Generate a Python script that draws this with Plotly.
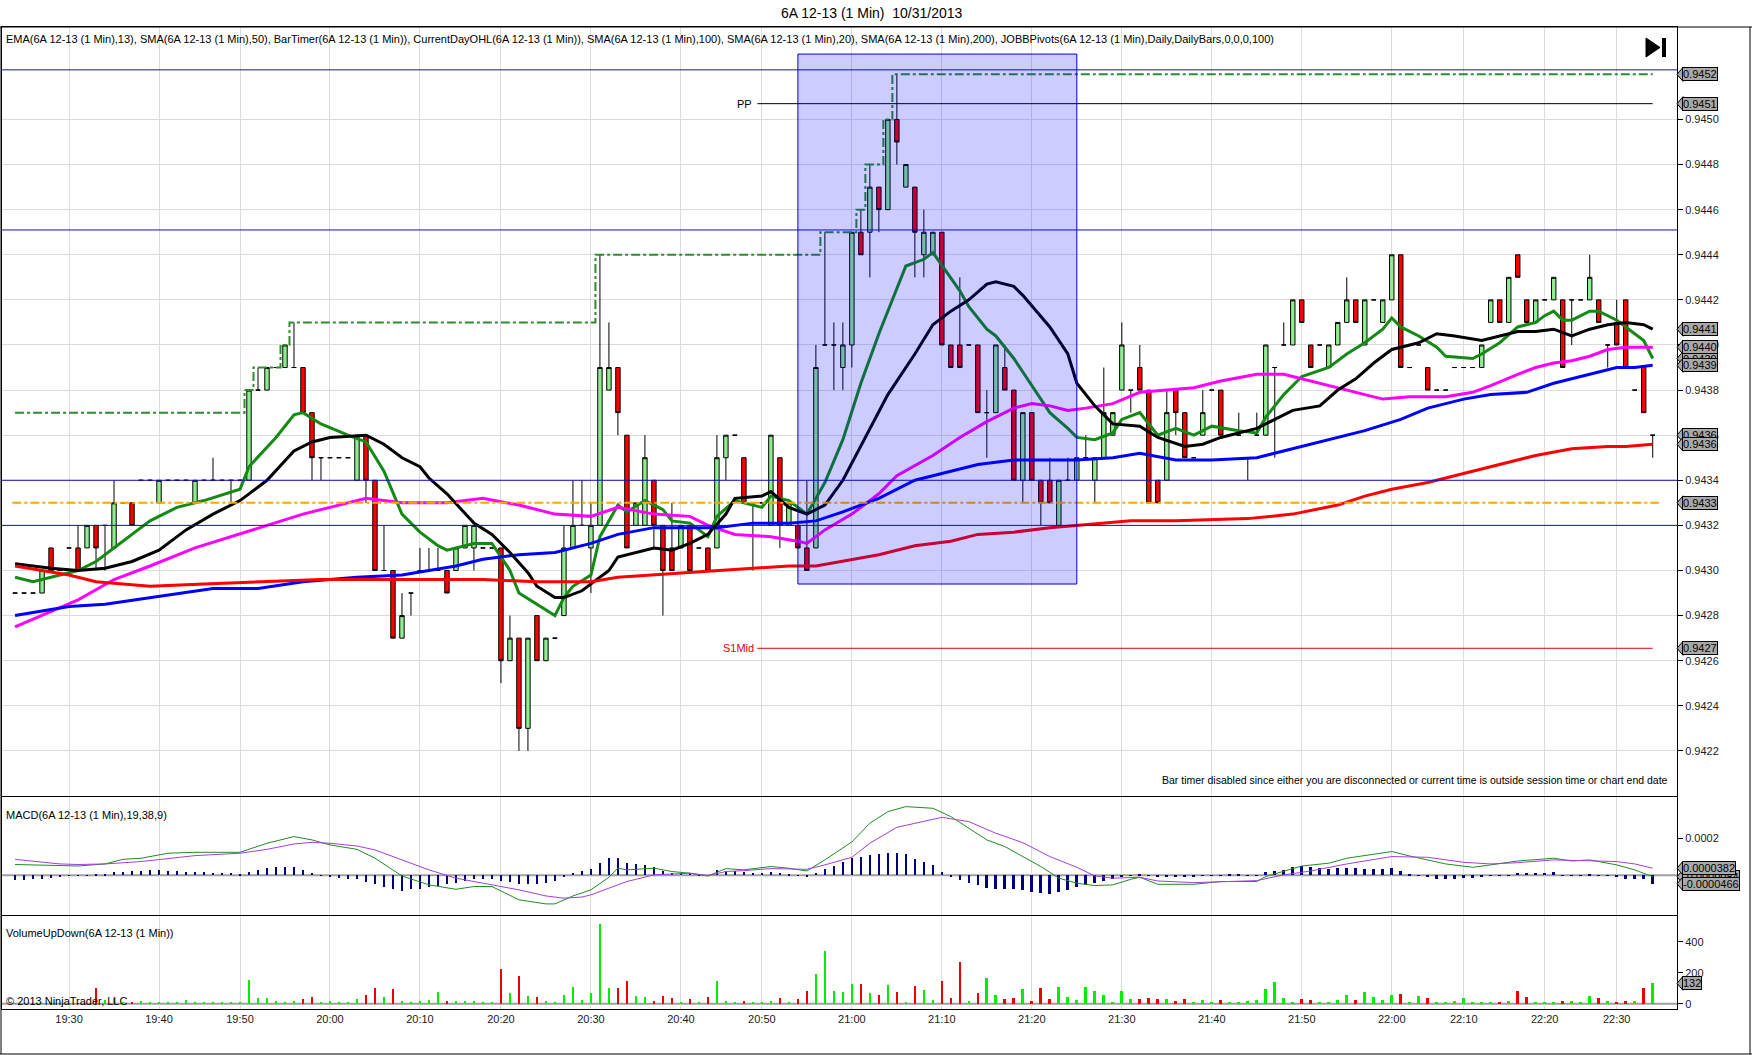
import plotly.graph_objects as go
import pandas as pd

# ------------------------------------------------------------------ DATA
TITLE = "6A 12-13 (1 Min)  10/31/2013"
INDICATORS = ("EMA(6A 12-13 (1 Min),13), SMA(6A 12-13 (1 Min),50), BarTimer(6A 12-13 (1 Min)), "
              "CurrentDayOHL(6A 12-13 (1 Min)), SMA(6A 12-13 (1 Min),100), SMA(6A 12-13 (1 Min),20), "
              "SMA(6A 12-13 (1 Min),200), JOBBPivots(6A 12-13 (1 Min),Daily,DailyBars,0,0,0,100)")
MACD_LABEL = "MACD(6A 12-13 (1 Min),19,38,9)"
VOL_LABEL = "VolumeUpDown(6A 12-13 (1 Min))"
BAR_TIMER_MSG = "Bar timer disabled since either you are disconnected or current time is outside session time or chart end date"
COPYRIGHT = "© 2013 NinjaTrader, LLC"

first_bar = "19:24"
last_bar = "22:34"
missing_minutes = ["19:44", "20:18", "20:46", "22:06", "22:08", "22:13", "22:22", "22:27"]
time_ticks = ["19:30", "19:40", "19:50", "20:00", "20:10", "20:20", "20:30", "20:40", "20:50", "21:00",
              "21:10", "21:20", "21:30", "21:40", "21:50", "22:00", "22:10", "22:20", "22:30"]

open_px = [
    .9429, .9429, .9429, .9429, .9431, .9430, .9431, .9431, .9431, .9432,
    .9432, .9431, .9433, .9433, .9434, .9434, .9433, .9434, .9434, .9434,
    .9433, .9434, .9434, .9434, .9434, .9434, .9434, .9438, .9438, .9439,
    .9439, .9439, .9439, .9437, .9435, .9435, .9435, .9435, .9434, .9436,
    .9434, .9430, .9430, .9427, .9429, .9430, .9430, .9430, .9430, .9430,
    .9431, .9431, .9431, .9431, .9431, .9426, .9427, .9423, .9428, .9426,
    .9427, .9428, .9431, .9432, .9431, .9432, .9438, .9439, .9436, .9432,
    .9432, .9434, .9432, .9431, .9431, .9432, .9431, .9431, .9431, .9435,
    .9436, .9435, .9433, .9433, .9432, .9435, .9432, .9432, .9431, .9431,
    .9440, .9440, .9439, .9440, .9445, .9445, .9447, .9446, .9450, .9447,
    .9447, .9444, .9444, .9445, .9440, .9440, .9440, .9440, .9437, .9437,
    .9439, .9438, .9434, .9437, .9434, .9434, .9432, .9434, .9434, .9435,
    .9434, .9435, .9436, .9438, .9438, .9439, .9438, .9434, .9434, .9438,
    .9437, .9435, .9436, .9438, .9438, .9436, .9436, .9435, .9436, .9436,
    .9439, .9440, .9440, .9442, .9440, .9440, .9439, .9440, .9441, .9442,
    .9440, .9442, .9441, .9442, .9444, .9439, .9440, .9439, .9438, .9438,
    .9439, .9439, .9439, .9439, .9441, .9442, .9441, .9444, .9442, .9441,
    .9442, .9442, .9442, .9442, .9442, .9442, .9442, .9440, .9441, .9442,
    .9438, .9439, .9436]
high_px = [
    .9429, .9429, .9429, .9430, .9431, .9430, .9431, .9432, .9432, .9432,
    .9432, .9434, .9433, .9433, .9434, .9434, .9434, .9434, .9434, .9434,
    .9434, .9434, .9435, .9434, .9434, .9434, .9438, .9439, .9439, .9439,
    .9440, .9441, .9439, .9437, .9435, .9435, .9435, .9435, .9436, .9436,
    .9434, .9432, .9430, .9429, .9429, .9431, .9431, .9431, .9430, .9431,
    .9432, .9432, .9431, .9431, .9431, .9428, .9427, .9427, .9428, .9427,
    .9427, .9432, .9434, .9434, .9433, .9444, .9441, .9439, .9436, .9433,
    .9436, .9434, .9432, .9433, .9432, .9432, .9431, .9431, .9436, .9436,
    .9436, .9435, .9433, .9433, .9436, .9435, .9433, .9432, .9434, .9440,
    .9445, .9441, .9441, .9445, .9446, .9448, .9447, .9450, .9452, .9448,
    .9447, .9446, .9445, .9445, .9440, .9443, .9440, .9440, .9438, .9440,
    .9440, .9438, .9437, .9437, .9434, .9435, .9434, .9435, .9435, .9436,
    .9435, .9439, .9437, .9441, .9438, .9440, .9438, .9434, .9438, .9438,
    .9437, .9435, .9438, .9438, .9438, .9436, .9437, .9435, .9437, .9440,
    .9439, .9441, .9442, .9442, .9440, .9440, .9440, .9441, .9443, .9442,
    .9442, .9442, .9442, .9444, .9444, .9439, .9440, .9439, .9438, .9438,
    .9439, .9439, .9439, .9440, .9442, .9442, .9443, .9444, .9442, .9442,
    .9442, .9443, .9442, .9442, .9442, .9444, .9442, .9440, .9442, .9442,
    .9438, .9439, .9436]
low_px = [
    .9429, .9429, .9429, .9429, .9430, .9430, .9431, .9430, .9431, .9430,
    .9430, .9431, .9433, .9432, .9434, .9434, .9433, .9434, .9434, .9434,
    .9433, .9434, .9434, .9434, .9433, .9434, .9434, .9438, .9438, .9439,
    .9439, .9439, .9437, .9434, .9434, .9435, .9435, .9435, .9434, .9433,
    .9430, .9430, .9427, .9427, .9428, .9430, .9430, .9430, .9429, .9430,
    .9431, .9430, .9431, .9431, .9425, .9426, .9422, .9422, .9426, .9426,
    .9427, .9428, .9431, .9432, .9429, .9432, .9438, .9436, .9431, .9432,
    .9432, .9431, .9428, .9430, .9431, .9430, .9431, .9430, .9431, .9434,
    .9436, .9433, .9430, .9433, .9432, .9431, .9432, .9431, .9430, .9431,
    .9440, .9438, .9438, .9439, .9444, .9443, .9445, .9446, .9448, .9447,
    .9443, .9443, .9444, .9440, .9439, .9439, .9440, .9437, .9435, .9437,
    .9438, .9434, .9433, .9434, .9432, .9433, .9432, .9434, .9434, .9435,
    .9433, .9435, .9436, .9438, .9437, .9438, .9433, .9433, .9434, .9436,
    .9435, .9435, .9436, .9438, .9436, .9436, .9436, .9434, .9436, .9436,
    .9435, .9440, .9440, .9441, .9439, .9440, .9439, .9440, .9441, .9441,
    .9440, .9442, .9441, .9442, .9439, .9439, .9440, .9438, .9438, .9438,
    .9439, .9439, .9439, .9439, .9441, .9441, .9441, .9443, .9441, .9441,
    .9442, .9442, .9439, .9440, .9442, .9442, .9441, .9439, .9440, .9439,
    .9438, .9437, .9435]
close_px = [
    .9429, .9429, .9429, .9430, .9430, .9430, .9431, .9430, .9432, .9431,
    .9432, .9433, .9433, .9432, .9434, .9434, .9434, .9434, .9434, .9434,
    .9434, .9434, .9434, .9434, .9434, .9434, .9438, .9438, .9439, .9439,
    .9440, .9439, .9437, .9435, .9435, .9435, .9435, .9435, .9436, .9434,
    .9430, .9430, .9427, .9428, .9429, .9430, .9430, .9430, .9429, .9431,
    .9432, .9432, .9431, .9431, .9426, .9427, .9423, .9427, .9426, .9427,
    .9427, .9431, .9432, .9432, .9432, .9439, .9439, .9437, .9431, .9433,
    .9435, .9432, .9430, .9430, .9432, .9430, .9431, .9430, .9435, .9436,
    .9436, .9433, .9433, .9433, .9436, .9432, .9433, .9431, .9430, .9439,
    .9440, .9440, .9440, .9445, .9444, .9447, .9446, .9450, .9449, .9448,
    .9445, .9445, .9445, .9440, .9439, .9439, .9440, .9437, .9437, .9440,
    .9438, .9434, .9437, .9434, .9433, .9433, .9434, .9434, .9435, .9435,
    .9435, .9437, .9437, .9440, .9438, .9438, .9433, .9433, .9437, .9437,
    .9435, .9435, .9437, .9438, .9436, .9436, .9436, .9435, .9436, .9440,
    .9439, .9440, .9442, .9441, .9439, .9440, .9440, .9441, .9442, .9441,
    .9442, .9442, .9442, .9444, .9439, .9439, .9440, .9438, .9438, .9438,
    .9439, .9439, .9439, .9440, .9442, .9441, .9443, .9443, .9441, .9442,
    .9442, .9443, .9439, .9442, .9442, .9443, .9441, .9440, .9440, .9439,
    .9438, .9437, .9436]

volume = [
    3, 3, 4, 3, 4, 3, 4, 3, 4, 103,
    23, 39, 5, 5, 17, 11, 5, 5, 5, 24,
    11, 5, 11, 11, 11, 5, 155, 34, 37, 17,
    11, 17, 32, 45, 13, 17, 5, 11, 30, 56,
    103, 45, 97, 17, 13, 17, 24, 75, 17, 17,
    17, 17, 5, 11, 224, 69, 178, 50, 43, 17,
    11, 56, 108, 24, 69, 512, 103, 103, 148, 50,
    45, 17, 50, 37, 11, 30, 5, 43, 148, 17,
    11, 17, 11, 11, 17, 37, 5, 30, 82, 194,
    342, 82, 75, 127, 127, 69, 56, 120, 75, 11,
    114, 88, 24, 146, 37, 269, 17, 69, 166, 56,
    30, 37, 95, 17, 101, 30, 108, 43, 24, 108,
    82, 56, 11, 82, 30, 30, 37, 30, 30, 17,
    30, 5, 24, 5, 24, 11, 11, 17, 24, 95,
    140, 37, 11, 30, 24, 11, 11, 24, 56, 24,
    75, 43, 24, 56, 62, 5, 50, 37, 11, 11,
    17, 37, 11, 11, 5, 11, 17, 82, 43, 11,
    11, 5, 17, 17, 11, 50, 37, 17, 11, 17,
    17, 101, 132]

macd_diff = [
    -25e-6, -25e-6, -22e-6, -18e-6, -14e-6, -11e-6, -4e-6, -2e-6, -1e-6, 2e-6,
    7e-6, 16e-6, 18e-6, 22e-6, 25e-6, 27e-6, 29e-6, 25e-6, 23e-6, 20e-6,
    18e-6, 18e-6, 14e-6, 14e-6, 11e-6, 9e-6, 18e-6, 29e-6, 38e-6, 43e-6,
    45e-6, 43e-6, 29e-6, 11e-6, 1e-6, -11e-6, -16e-6, -20e-6, -23e-6, -34e-6,
    -49e-6, -61e-6, -76e-6, -83e-6, -76e-6, -72e-6, -65e-6, -58e-6, -49e-6, -40e-6,
    -31e-6, -22e-6, -18e-6, -22e-6, -29e-6, -36e-6, -47e-6, -50e-6, -49e-6, -43e-6,
    -29e-6, -11e-6, 11e-6, 23e-6, 36e-6, 65e-6, 92e-6, 95e-6, 68e-6, 61e-6,
    56e-6, 47e-6, 23e-6, 14e-6, 11e-6, 11e-6, 7e-6, -4e-6, 27e-6, 22e-6,
    25e-6, 20e-6, 14e-6, 11e-6, 16e-6, 11e-6, 7e-6, 1e-6, -11e-6, 11e-6,
    34e-6, 50e-6, 72e-6, 92e-6, 101e-6, 108e-6, 115e-6, 122e-6, 122e-6, 115e-6,
    86e-6, 70e-6, 54e-6, 20e-6, -11e-6, -25e-6, -40e-6, -52e-6, -70e-6, -72e-6,
    -72e-6, -74e-6, -79e-6, -88e-6, -94e-6, -99e-6, -90e-6, -79e-6, -65e-6, -52e-6,
    -43e-6, -29e-6, -22e-6, -11e-6, -4e-6, 5e-6, -4e-6, -11e-6, -11e-6, -7e-6,
    -9e-6, -7e-6, -4e-6, -2e-6, 1e-6, 4e-6, 4e-6, 1e-6, 1e-6, 20e-6,
    23e-6, 29e-6, 43e-6, 50e-6, 47e-6, 40e-6, 36e-6, 41e-6, 41e-6, 41e-6,
    36e-6, 36e-6, 36e-6, 40e-6, 23e-6, 5e-6, 1e-6, -11e-6, -18e-6, -22e-6,
    -18e-6, -16e-6, -13e-6, -7e-6, 1e-6, 1e-6, 1e-6, 14e-6, 14e-6, 11e-6,
    11e-6, 18e-6, 1e-6, 1e-6, 1e-6, 5e-6, 1e-6, -4e-6, -11e-6, -18e-6,
    -22e-6, -22e-6, -46.6e-6]

# MACD line and its signal (Avg), read at sampled bars (bar number, value)
macd_bars = [0, 5, 7, 10, 12, 14, 17, 20, 25, 28, 31, 33, 35, 38, 40, 43, 46, 49, 51, 53, 56, 59, 60, 62, 64,
             66, 67, 68, 71, 73, 75, 77, 79, 81, 84, 86, 88, 90, 93, 95, 97, 99, 102, 104, 106, 108, 110,
             112, 114, 116, 118, 120, 122, 124, 125, 127, 131, 134, 138, 139, 143, 146, 148, 153, 155, 159,
             162, 164, 167, 171, 173, 175, 178, 180, 182]
macd_vals = [58e-6, 50e-6, 50e-6, 61e-6, 86e-6, 92e-6, 119e-6, 124e-6, 124e-6, 173e-6, 209e-6, 191e-6,
             164e-6, 140e-6, 92e-6, -4e-6, -52e-6, -76e-6, -61e-6, -61e-6, -133e-6, -155e-6, -155e-6,
             -112e-6, -79e-6, -11e-6, 38e-6, 29e-6, 38e-6, 20e-6, 11e-6, -4e-6, 36e-6, 29e-6, 47e-6, 38e-6,
             23e-6, 83e-6, 180e-6, 281e-6, 344e-6, 371e-6, 362e-6, 317e-6, 254e-6, 191e-6, 155e-6, 101e-6,
             47e-6, -16e-6, -43e-6, -56e-6, -52e-6, -22e-6, -11e-6, -49e-6, -49e-6, -34e-6, -34e-6, -7e-6,
             50e-6, 65e-6, 92e-6, 128e-6, 104e-6, 61e-6, 43e-6, 56e-6, 77e-6, 92e-6, 77e-6, 83e-6, 56e-6,
             29e-6, -8.4e-6]
avg_bars = [0, 5, 7, 10, 14, 17, 20, 25, 28, 31, 33, 35, 38, 40, 43, 46, 49, 53, 56, 59, 61, 63, 64, 66, 68,
            71, 75, 77, 79, 81, 84, 86, 88, 90, 93, 95, 98, 103, 106, 109, 112, 115, 118, 120, 122, 125, 127,
            131, 135, 138, 141, 144, 148, 153, 157, 161, 164, 167, 171, 175, 178, 180, 182]
avg_vals = [86e-6, 61e-6, 58e-6, 61e-6, 74e-6, 92e-6, 106e-6, 119e-6, 140e-6, 169e-6, 178e-6, 173e-6,
            158e-6, 137e-6, 83e-6, 29e-6, -16e-6, -52e-6, -79e-6, -112e-6, -124e-6, -118e-6, -106e-6,
            -70e-6, -34e-6, 2e-6, 11e-6, -2e-6, 20e-6, 25e-6, 36e-6, 34e-6, 32e-6, 56e-6, 97e-6, 173e-6,
            259e-6, 313e-6, 290e-6, 227e-6, 176e-6, 101e-6, 43e-6, -4e-6, -16e-6, -11e-6, -31e-6, -40e-6,
            -34e-6, -29e-6, 2e-6, 23e-6, 61e-6, 101e-6, 97e-6, 70e-6, 61e-6, 68e-6, 83e-6, 79e-6, 74e-6,
            61e-6, 38.2e-6]

# Moving averages, read at sampled bars
sma20_bars = [0, 4, 7, 10, 13, 16, 19, 22, 25, 28, 31, 33, 35, 39, 41, 43, 45, 46, 48, 51, 53, 55, 57, 58,
              60, 61, 63, 64, 66, 67, 69, 71, 73, 75, 77, 79, 80, 83, 84, 86, 88, 90, 92, 94, 97, 100, 102,
              104, 106, 108, 109, 111, 112, 115, 117, 118, 120, 122, 125, 127, 130, 132, 134, 138, 140, 142,
              145, 147, 149, 151, 153, 156, 158, 160, 163, 165, 167, 169, 171, 173, 175, 177, 179, 181, 182]
sma20_vals = [.94303, .94301, .94300, .94301, .94304, .94309, .94318, .94325, .94331, .94340, .94353,
              .94357, .94359, .94360, .94356, .94350, .94346, .94341, .94334, .94321, .94316, .94308,
              .94299, .94293, .94288, .94288, .94291, .94294, .94300, .94306, .94308, .94310, .94309,
              .94312, .94316, .94325, .94332, .94333, .94335, .94328, .94325, .94329, .94340, .94355,
              .94378, .94396, .94409, .94415, .94420, .94427, .94428, .94426, .94422, .94408, .94396,
              .94383, .94373, .94365, .94364, .94359, .94355, .94356, .94359, .94363, .94367, .94371,
              .94373, .94380, .94385, .94392, .94398, .94401, .94405, .94404, .94402, .94404, .94406,
              .94406, .94407, .94404, .94407, .94409, .94410, .94409, .94407]
ema13_bars = [0, 2, 4, 7, 9, 12, 15, 18, 21, 25, 26, 29, 31, 32, 34, 37, 39, 41, 43, 45, 47, 48, 51, 53, 55,
              56, 58, 60, 61, 62, 64, 65, 67, 68, 70, 72, 73, 75, 76, 77, 78, 80, 83, 84, 86, 88, 90, 92, 94,
              96, 99, 101, 102, 105, 106, 108, 109, 111, 112, 115, 117, 118, 120, 122, 123, 125, 127, 129,
              131, 133, 136, 138, 139, 141, 143, 146, 148, 150, 152, 153, 154, 156, 158, 159, 162, 163, 165,
              167, 169, 170, 171, 172, 173, 175, 176, 178, 179, 181, 182]
ema13_vals = [.94297, .94295, .94297, .94300, .94304, .94313, .94322, .94328, .94331, .94336, .94346,
              .94359, .94369, .94370, .94365, .94360, .94357, .94344, .94325, .94317, .94311, .94309,
              .94312, .94312, .94300, .94290, .94285, .94280, .94288, .94293, .94298, .94315, .94329,
              .94326, .94331, .94327, .94322, .94321, .94318, .94315, .94324, .94331, .94328, .94333,
              .94331, .94325, .94339, .94358, .94383, .94405, .94435, .94438, .94441, .94424, .94417,
              .94407, .94404, .94394, .94388, .94370, .94363, .94359, .94358, .94361, .94367, .94370,
              .94360, .94363, .94360, .94364, .94362, .94361, .94368, .94378, .94386, .94390, .94396,
              .94401, .94407, .94412, .94408, .94404, .94399, .94395, .94394, .94396, .94401, .94408,
              .94410, .94413, .94415, .94411, .94411, .94415, .94415, .94411, .94408, .94402, .94394]
sma50_bars = [0, 4, 7, 11, 15, 20, 24, 28, 32, 35, 39, 43, 48, 52, 56, 60, 64, 67, 71, 75, 77, 80, 84, 87,
              88, 90, 93, 96, 98, 102, 105, 108, 111, 113, 115, 117, 119, 122, 125, 128, 131, 134, 138, 141,
              144, 148, 152, 155, 159, 162, 164, 167, 169, 171, 173, 175, 177, 179, 182]
sma50_vals = [.94275, .94282, .94287, .94296, .94302, .94310, .94315, .94320, .94325, .94328, .94332,
              .94330, .94330, .94332, .94329, .94325, .94324, .94328, .94325, .94324, .94320, .94316,
              .94315, .94313, .94312, .94318, .94325, .94334, .94342, .94351, .94359, .94366, .94372,
              .94374, .94373, .94371, .94372, .94374, .94379, .94380, .94381, .94384, .94387, .94387,
              .94384, .94380, .94376, .94377, .94377, .94379, .94382, .94387, .94390, .94392, .94393,
              .94395, .94398, .94399, .94399]
sma100_bars = [0, 6, 10, 17, 22, 27, 32, 38, 43, 46, 49, 52, 56, 60, 64, 67, 71, 75, 78, 82, 86, 89, 92, 96,
               100, 104, 107, 111, 115, 118, 122, 125, 129, 133, 138, 141, 145, 150, 154, 157, 161, 164, 168,
               171, 175, 178, 180, 182]
sma100_vals = [.94280, .94284, .94285, .94289, .94292, .94292, .94295, .94297, .94298, .94300, .94302,
               .94305, .94307, .94308, .94312, .94316, .94319, .94319, .94319, .94321, .94321, .94322,
               .94326, .94332, .94340, .94344, .94347, .94349, .94349, .94349, .94350, .94352, .94349,
               .94349, .94350, .94353, .94357, .94362, .94367, .94372, .94376, .94378, .94379, .94383,
               .94387, .94390, .94390, .94391]
sma200_bars = [0, 6, 9, 15, 21, 28, 34, 38, 45, 52, 58, 64, 67, 71, 75, 78, 82, 86, 89, 92, 96, 100, 104,
               107, 111, 115, 118, 121, 124, 129, 137, 142, 147, 150, 153, 157, 161, 163, 166, 169, 173, 177,
               179, 182]
sma200_vals = [.94302, .94298, .94295, .94293, .94294, .94295, .94296, .94296, .94296, .94296, .94295,
               .94295, .94297, .94298, .94299, .94300, .94301, .94302, .94302, .94304, .94307, .94311,
               .94313, .94316, .94317, .94319, .94320, .94321, .94322, .94322, .94323, .94325, .94329,
               .94333, .94336, .94339, .94343, .94345, .94348, .94351, .94354, .94355, .94355, .94356]

# Reference levels
prior_day_high = 0.9437          # CurrentDayOHL high before the first visible bar
day_open = 0.9433                # CurrentDayOHL open
blue_levels = [0.94522, 0.94451, 0.9434, 0.9432]
pivot_pp = 0.94507
pivot_s1mid = 0.942655
pivot_start = "20:50"
box_start, box_end = "20:54", "21:25"
box_low, box_high = 0.94294, 0.94529

price_ticks = [0.9422, 0.9424, 0.9426, 0.9428, 0.9430, 0.9432, 0.9434, 0.9436, 0.9438, 0.9440,
               0.9442, 0.9444, 0.9446, 0.9448, 0.9450]
macd_ticks = [0.0002]
volume_ticks = [0, 200, 400]

# ------------------------------------------------------------------ BUILD
W, H = 1752, 1055
FONT = "Liberation Sans, Arial, sans-serif"


def px_x(px):
    return px / W


def px_y(py):
    return 1 - py / H


minutes = pd.date_range("2013-10-31 " + first_bar, "2013-10-31 " + last_bar, freq="1min").strftime("%H:%M")
times = [t for t in minutes if t not in missing_minutes]
n = len(times)

day_high = []
running = prior_day_high
for h in high_px:
    running = max(running, h)
    day_high.append(running)

vol_colors = ["#00EE00" if c >= o else "#EE0000" for o, c in zip(open_px, close_px)]

fig = go.Figure()

fig.add_trace(go.Candlestick(
    x=times, open=open_px, high=high_px, low=low_px, close=close_px,
    increasing=dict(fillcolor="#90EE90", line=dict(color="black", width=1)),
    decreasing=dict(fillcolor="#FF0000", line=dict(color="black", width=1)),
    whiskerwidth=0, hoverinfo="skip", xaxis="x", yaxis="y", showlegend=False))

fig.add_trace(go.Scatter(x=times, y=day_high, mode="lines", hoverinfo="skip",
                         line=dict(color="#2E8B2E", width=2, dash="dashdot", shape="hvh"),
                         xaxis="x", yaxis="y"))


def ma_trace(bars, vals, color):
    return go.Scatter(x=[times[b] for b in bars], y=vals, mode="lines", hoverinfo="skip",
                      line=dict(color=color, width=3), xaxis="x", yaxis="y")


fig.add_trace(ma_trace(ema13_bars, ema13_vals, "#138A13"))
fig.add_trace(ma_trace(sma50_bars, sma50_vals, "#FF00FF"))
fig.add_trace(ma_trace(sma100_bars, sma100_vals, "#0000FF"))
fig.add_trace(ma_trace(sma20_bars, sma20_vals, "#000000"))
fig.add_trace(ma_trace(sma200_bars, sma200_vals, "#FF0000"))

# MACD panel
fig.add_trace(go.Bar(x=times, y=macd_diff, marker=dict(color="#000080", line=dict(width=0)),
                     width=0.3, hoverinfo="skip", xaxis="x2", yaxis="y2"))
fig.add_trace(go.Scatter(x=[times[b] for b in macd_bars], y=macd_vals, mode="lines", hoverinfo="skip",
                         line=dict(color="#228B22", width=1), xaxis="x2", yaxis="y2"))
fig.add_trace(go.Scatter(x=[times[b] for b in avg_bars], y=avg_vals, mode="lines", hoverinfo="skip",
                         line=dict(color="#A040E0", width=1), xaxis="x2", yaxis="y2"))

# Volume panel
fig.add_trace(go.Bar(x=times, y=volume, marker=dict(color=vol_colors, line=dict(width=0)),
                     width=0.3, hoverinfo="skip", xaxis="x3", yaxis="y3"))

X_DOMAIN = [px_x(2), px_x(1677)]
X_RANGE = [-1.45, n + 1.7]
axis_font = dict(family=FONT, size=11, color="#1a1a1a")
common_x = dict(type="category", categoryorder="array", categoryarray=times, range=X_RANGE,
                domain=X_DOMAIN, showgrid=True, gridcolor="#DCDCDC", gridwidth=1,
                tickmode="array", tickvals=time_ticks, ticktext=time_ticks, showline=True, mirror=True,
                linecolor="black", linewidth=1, zeroline=False, fixedrange=True, tickfont=axis_font)
common_y = dict(side="right", showline=True, mirror=True, linecolor="black", linewidth=1,
                ticks="outside", ticklen=5, tickcolor="black", tickfont=axis_font, zeroline=False,
                fixedrange=True)

fig.update_layout(
    width=W, height=H, margin=dict(l=0, r=0, t=0, b=0),
    paper_bgcolor="white", plot_bgcolor="white", showlegend=False,
    font=dict(family=FONT, size=11, color="black"),
    bargap=0, boxgap=0.3,
    xaxis=dict(common_x, anchor="y", showticklabels=False, rangeslider=dict(visible=False)),
    xaxis2=dict(common_x, anchor="y2", matches="x", showticklabels=False),
    xaxis3=dict(common_x, anchor="y3", matches="x", showticklabels=True),
    yaxis=dict(common_y, domain=[px_y(796), px_y(27)], range=[0.94200, 0.94541], tickmode="array",
               tickvals=price_ticks, tickformat=".4f", showgrid=True, gridcolor="#DCDCDC"),
    yaxis2=dict(common_y, domain=[px_y(915), px_y(797)], range=[-0.000215, 0.000423], tickmode="array",
                tickvals=macd_ticks, ticktext=["0.0002"], showgrid=False),
    yaxis3=dict(common_y, domain=[px_y(1009), px_y(916)], range=[-34, 566], tickmode="array",
                tickvals=volume_ticks, showgrid=False),
)

shapes = []
# horizontal blue levels
for lv in blue_levels:
    shapes.append(dict(type="line", xref="x domain", yref="y", x0=0, x1=1, y0=lv, y1=lv,
                       line=dict(color="#1010C0", width=1), layer="above"))
# day open dash-dot
shapes.append(dict(type="line", xref="x", yref="y", x0=-0.3, x1=n - 0.3, y0=day_open, y1=day_open,
                   line=dict(color="#FFA500", width=2, dash="dashdot"), layer="above"))
# pivots
p0 = times.index(pivot_start) - 0.5
shapes.append(dict(type="line", xref="x", yref="y", x0=p0, x1=n - 1, y0=pivot_pp, y1=pivot_pp,
                   line=dict(color="black", width=1), layer="above"))
shapes.append(dict(type="line", xref="x", yref="y", x0=p0, x1=n - 1, y0=pivot_s1mid, y1=pivot_s1mid,
                   line=dict(color="#E00000", width=1), layer="above"))
# highlighted box
shapes.append(dict(type="rect", xref="x", yref="y", x0=box_start, x1=box_end, y0=box_low, y1=box_high,
                   fillcolor="rgba(0,0,255,0.2)", line=dict(color="#0000E0", width=1), layer="above"))
# zero lines
shapes.append(dict(type="line", xref="x2 domain", yref="y2", x0=0, x1=1, y0=0, y1=0,
                   line=dict(color="#A0A0A0", width=2), layer="below"))
shapes.append(dict(type="line", xref="x3 domain", yref="y3", x0=0, x1=1, y0=0, y1=0,
                   line=dict(color="#A0A0A0", width=2), layer="below"))
# outer frame
for (xa, ya, xb, yb) in [(0, 27, W, 27), (1, 27, 1, 1054), (0, 1054, W, 1054), (1750, 27, 1750, 1054)]:
    shapes.append(dict(type="line", xref="paper", yref="paper", x0=px_x(xa), x1=px_x(xb),
                       y0=px_y(ya), y1=px_y(yb), line=dict(color="black", width=1)))
# "go to end" icon
shapes.append(dict(type="path", xref="paper", yref="paper",
                   path=f"M {px_x(1646)} {px_y(38)} L {px_x(1646)} {px_y(57)} L {px_x(1660)} {px_y(47.5)} Z",
                   fillcolor="black", line=dict(color="black", width=1)))
shapes.append(dict(type="rect", xref="paper", yref="paper", x0=px_x(1662), x1=px_x(1666),
                   y0=px_y(57), y1=px_y(38), fillcolor="black", line=dict(width=0)))

annotations = []


def add_marker(value, text, yref):
    shapes.append(dict(type="path", xref="paper", yref=yref, xsizemode="pixel", ysizemode="pixel",
                       xanchor=px_x(1677), yanchor=value, path="M 0 0 L 6 7 L 6 -7 Z",
                       fillcolor="#A8A8A8", line=dict(color="black", width=1)))
    annotations.append(dict(xref="paper", yref=yref, x=px_x(1682), y=value, xanchor="left",
                            yanchor="middle", text=text, showarrow=False, bgcolor="#A8A8A8",
                            bordercolor="black", borderwidth=1, borderpad=0,
                            font=dict(family=FONT, size=11, color="black")))


add_marker(max(day_high), f"{max(day_high):.4f}", "y")
add_marker(pivot_pp, f"{pivot_pp:.4f}", "y")
add_marker(sma20_vals[-1], f"{sma20_vals[-1]:.4f}", "y")
add_marker(ema13_vals[-1], f"{ema13_vals[-1]:.4f}", "y")
add_marker(sma50_vals[-1], f"{sma50_vals[-1]:.4f}", "y")
add_marker(sma100_vals[-1], f"{sma100_vals[-1]:.4f}", "y")
add_marker(close_px[-1], f"{close_px[-1]:.4f}", "y")
add_marker(sma200_vals[-1], f"{sma200_vals[-1]:.4f}", "y")
add_marker(day_open, f"{day_open:.4f}", "y")
add_marker(pivot_s1mid, f"{pivot_s1mid:.4f}", "y")
add_marker(macd_vals[-1], f"{macd_vals[-1]:.7f}", "y2")
add_marker(avg_vals[-1], f"{avg_vals[-1]:.7f}", "y2")
add_marker(macd_diff[-1], f"{macd_diff[-1]:.7f}", "y2")
add_marker(volume[-1], f"{volume[-1]}", "y3")

# texts
annotations.append(dict(xref="paper", yref="paper", x=px_x(872), y=px_y(13), text=TITLE, showarrow=False,
                        xanchor="center", yanchor="middle", font=dict(family=FONT, size=14, color="black")))
annotations.append(dict(xref="paper", yref="paper", x=px_x(4), y=px_y(39), text=INDICATORS, showarrow=False,
                        xanchor="left", yanchor="middle", font=dict(family=FONT, size=11, color="black")))
annotations.append(dict(xref="paper", yref="paper", x=px_x(4), y=px_y(815), text=MACD_LABEL,
                        showarrow=False, xanchor="left", yanchor="middle",
                        font=dict(family=FONT, size=11, color="black")))
annotations.append(dict(xref="paper", yref="paper", x=px_x(4), y=px_y(933), text=VOL_LABEL,
                        showarrow=False, xanchor="left", yanchor="middle",
                        font=dict(family=FONT, size=11, color="black")))
annotations.append(dict(xref="paper", yref="paper", x=px_x(4), y=px_y(1001), text=COPYRIGHT,
                        showarrow=False, xanchor="left", yanchor="middle",
                        font=dict(family=FONT, size=11, color="black")))
annotations.append(dict(xref="paper", yref="paper", x=px_x(1670), y=px_y(780), text=BAR_TIMER_MSG,
                        showarrow=False, xanchor="right", yanchor="middle",
                        font=dict(family=FONT, size=10.5, color="black")))
annotations.append(dict(xref="x", yref="y", x=p0, y=pivot_pp, text="PP", showarrow=False,
                        xanchor="right", yanchor="middle", xshift=-3,
                        font=dict(family=FONT, size=11, color="black")))
annotations.append(dict(xref="x", yref="y", x=p0, y=pivot_s1mid, text="S1Mid", showarrow=False,
                        xanchor="right", yanchor="middle", xshift=-1,
                        font=dict(family=FONT, size=11, color="#E00000")))

fig.update_layout(shapes=shapes, annotations=annotations)
fig.write_html("out.html", config={"displayModeBar": False},
               post_script="document.body.style.margin='0px';document.body.style.overflow='hidden';")
